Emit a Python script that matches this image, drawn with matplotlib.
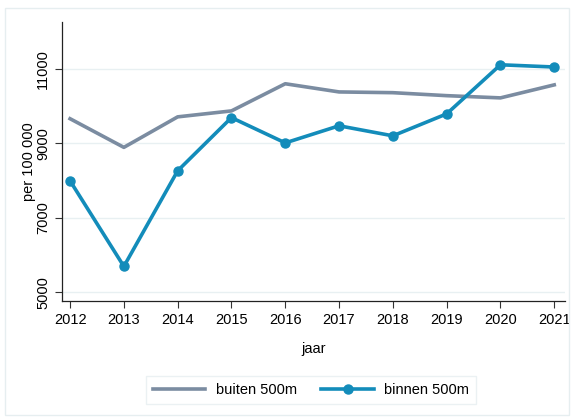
import matplotlib
matplotlib.use("Agg")
import matplotlib.pyplot as plt
from matplotlib.patches import Rectangle

# data
years = [2012, 2013, 2014, 2015, 2016, 2017, 2018, 2019, 2020, 2021]
buiten = [9660, 8890, 9710, 9870, 10600, 10380, 10360, 10280, 10220, 10570]
binnen = [7990, 5690, 8260, 9690, 9010, 9470, 9200, 9790, 11110, 11050]
yticks = [5000, 7000, 9000, 11000]

plt.rcParams['font.family'] = ['Liberation Sans', 'DejaVu Sans']

W, H = 573, 418
fig = plt.figure(figsize=(W / 100, H / 100), dpi=100)
fig.patches.append(Rectangle((5 / W, 3 / H), 564 / W, 407 / H, transform=fig.transFigure,
                             fill=False, edgecolor='#e6eef0', linewidth=1))

ax = fig.add_axes([62 / W, 1 - 301 / H, (565 - 62) / W, (301 - 22) / H])

ax.plot(years, buiten, color='#7b8ca1', linewidth=2.6, label='buiten 500m', zorder=3)
ax.plot(years, binnen, color='#138cba', linewidth=2.6, marker='o', markersize=6.5,
        label='binnen 500m', zorder=4)

ax.set_xlim(2011.85, 2021.2)
ax.set_ylim(4760, 12260)
ax.set_xticks(years)
ax.set_yticks(yticks)
ax.set_yticklabels([str(v) for v in yticks], rotation=90, va='center')
ax.tick_params(labelsize=10.5, length=5, width=0.8, color='#333333')
ax.grid(axis='y', color='#e8f0f2', linewidth=1)
ax.set_axisbelow(True)
for s in ['top', 'right']:
    ax.spines[s].set_visible(False)
for s in ['left', 'bottom']:
    ax.spines[s].set_color('#222222')
    ax.spines[s].set_linewidth(0.9)

ax.set_xlabel('jaar', fontsize=10.5, labelpad=11)
ax.set_ylabel('per 100 000', fontsize=10.5, labelpad=0)

leg = fig.legend(loc='center', bbox_to_anchor=(311 / W, 1 - 390 / H), ncol=2, fontsize=10.5,
                 frameon=True, fancybox=False, handlelength=3.6, columnspacing=1.7,
                 handletextpad=0.7, borderpad=0.5)
leg.get_frame().set_edgecolor('#e6eef0')
leg.get_frame().set_linewidth(1)

fig.savefig('out.png', dpi=100)
